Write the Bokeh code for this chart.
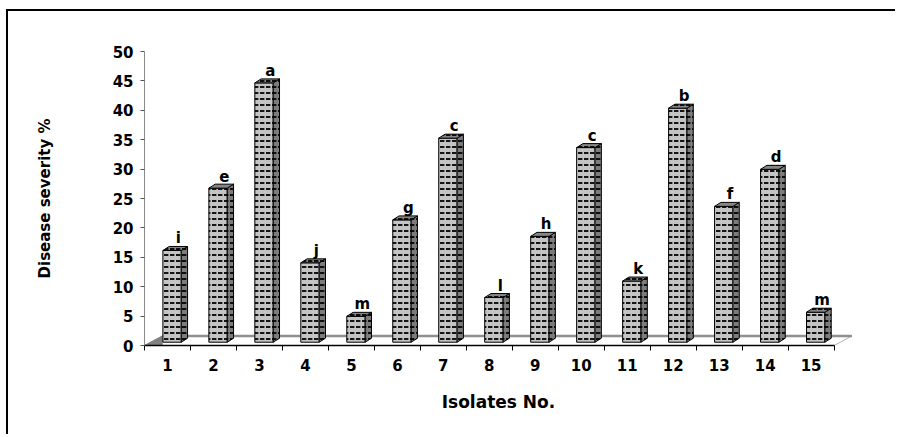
from bokeh.plotting import figure
from bokeh.models import Range1d, FixedTicker
from bokeh.embed import file_html
from bokeh.resources import INLINE
from bokeh.core.properties import value

# ---- data ----
isolates = list(range(1, 16))
severity = [15.6, 26.2, 44.1, 13.5, 4.4, 20.8, 34.7, 7.6, 18.0, 33.1, 10.4, 39.8, 23.1, 29.4, 5.1]
letters = ["i", "e", "a", "j", "m", "g", "c", "l", "h", "c", "k", "b", "f", "d", "m"]
y_ticks = [0, 5, 10, 15, 20, 25, 30, 35, 40, 45, 50]
x_labels = [str(i) for i in isolates]

FONT = "DejaVu Sans"

# ---- 3-D styling constants (data units) ----
BAR_OFF = 0.10    # front face centre shift to the right of category centre
BAR_W = 0.40      # front face width
DEPTH_X = 0.137   # bar depth, horizontal
DEPTH_Y = 0.68    # bar depth, vertical
BASE = 0.56       # bar base above axis (3-D floor)
FLOOR_X = 0.385
FLOOR_Y = 1.6

W, H = 889, 425
p = figure(width=W, height=H, output_backend="svg", toolbar_location=None,
           x_range=Range1d(0.5, 15.9), y_range=Range1d(0, 50),
           min_border_left=136, min_border_right=45, min_border_top=40, min_border_bottom=91,
           background_fill_color="white", border_fill_color="white")
p.styles = {"margin-left": "6px", "margin-top": "9px",
            "border-left": "2px solid black", "border-top": "2px solid black"}
p.outline_line_color = None
p.grid.visible = False

x0, x1 = 0.5, len(isolates) + 0.5

# floor
p.patch([x0, x1, x1 + FLOOR_X, x0 + FLOOR_X], [0, 0, FLOOR_Y, FLOOR_Y],
        fill_color="white", line_color="#b0b0b0", line_width=1)
p.line([x0 + FLOOR_X, x1 + FLOOR_X], [FLOOR_Y, FLOOR_Y], line_color="#8f8f8f", line_width=2.5)
p.patch([x0, x0 + FLOOR_X, x0 + FLOOR_X], [0, FLOOR_Y, 0],
        fill_color="#808080", line_color="#808080")

# bars
xl = [c + BAR_OFF - BAR_W / 2 for c in isolates]
xr = [c + BAR_OFF + BAR_W / 2 for c in isolates]
tops = [BASE + v for v in severity]

hatch = dict(hatch_pattern="horizontal_dash", hatch_color="black", hatch_scale=6, hatch_weight=1.8)

p.quad(left=xl, right=xr, bottom=[BASE] * len(isolates), top=tops,
       fill_color="#c4c4c4", line_color="black", line_width=1, **hatch)
side_xs = [[r, r + DEPTH_X, r + DEPTH_X, r] for r in xr]
side_ys = [[BASE, BASE + DEPTH_Y, t + DEPTH_Y, t] for t in tops]
p.patches(side_xs, side_ys, fill_color="#7c7c7c", line_color="black", line_width=1, **hatch)
top_xs = [[l, r, r + DEPTH_X, l + DEPTH_X] for l, r in zip(xl, xr)]
top_ys = [[t, t, t + DEPTH_Y, t + DEPTH_Y] for t in tops]
p.patches(top_xs, top_ys, fill_color="#858585", line_color="black", line_width=1, **hatch)

# significance letters
p.text(x=[c + BAR_OFF + DEPTH_X for c in isolates], y=tops, text=letters,
       text_align="center", text_baseline="alphabetic", y_offset=-12,
       text_font=value(FONT), text_font_style="bold", text_font_size="15px", text_color="black")

# x axis
xa = p.xaxis[0]
xa.ticker = FixedTicker(ticks=isolates, minor_ticks=[i + 0.5 for i in range(0, 16)])
xa.major_label_overrides = {i: s for i, s in zip(isolates, x_labels)}
xa.bounds = (x0, x1)
xa.axis_line_color = "black"
xa.axis_line_width = 1.5
xa.major_tick_line_color = None
xa.major_tick_out = 5
xa.major_tick_in = 0
xa.minor_tick_line_color = "black"
xa.minor_tick_out = 5
xa.minor_tick_in = 0
xa.major_label_standoff = 8
xa.major_label_text_font = FONT
xa.major_label_text_font_style = "bold"
xa.major_label_text_font_size = "15px"
xa.major_label_text_color = "black"
xa.axis_label = "Isolates No."
xa.axis_label_text_font = FONT
xa.axis_label_text_font_style = "bold"
xa.axis_label_text_font_size = "17px"
xa.axis_label_text_color = "black"
xa.axis_label_standoff = 18

# y axis
ya = p.yaxis[0]
ya.ticker = FixedTicker(ticks=y_ticks, minor_ticks=[])
ya.axis_line_color = "#8a8a8a"
ya.axis_line_width = 1
ya.major_tick_line_color = "#555555"
ya.major_tick_out = 4
ya.major_tick_in = 0
ya.minor_tick_line_color = None
ya.major_label_standoff = 7
ya.major_label_text_font = FONT
ya.major_label_text_font_style = "bold"
ya.major_label_text_font_size = "15px"
ya.major_label_text_color = "black"
ya.axis_label = "Disease severity %"
ya.axis_label_text_font = FONT
ya.axis_label_text_font_style = "bold"
ya.axis_label_text_font_size = "15px"
ya.axis_label_text_color = "black"
ya.axis_label_standoff = 56

open("out.html", "w").write(file_html(p, INLINE))
